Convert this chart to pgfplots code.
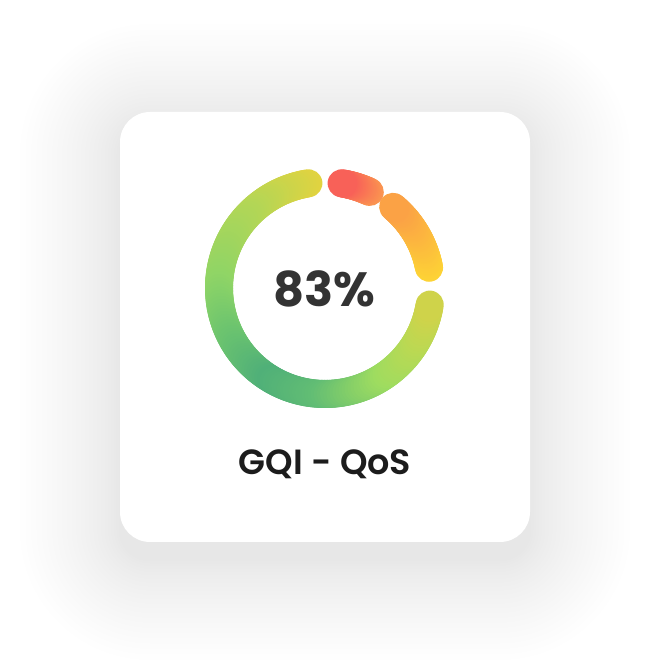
\documentclass[border=0pt]{standalone}
\usepackage{pgfplots}
\pgfplotsset{compat=1.18}
\usepackage{fontspec}
\newfontfamily\pop{Poppins}
\newfontfamily\popm{Poppins SemiBold}
\definecolor{numgray}{HTML}{333333}
\definecolor{labblack}{HTML}{1C1C1C}
\pgfplotsset{
  colormap={gauge}{
    rgb255(0pt)=(226,211,64)
    rgb255(36pt)=(181,214,85)
    rgb255(81pt)=(143,213,102)
    rgb255(111pt)=(108,196,111)
    rgb255(141pt)=(80,176,120)
    rgb255(171pt)=(98,189,116)
    rgb255(207pt)=(158,220,96)
    rgb255(231pt)=(184,217,84)
    rgb255(252pt)=(208,211,74)
    rgb255(300pt)=(253,212,53)
    rgb255(420pt)=(251,160,70)
    rgb255(462pt)=(250,150,80)
    rgb255(510pt)=(248,96,88)
  }
}
\begin{document}
\begin{tikzpicture}[x=1pt,y=1pt]
\fill[white] (0,0) rectangle (650,670);
% soft shadow
\foreach \i in {1,...,24} {
  \pgfmathsetmacro{\d}{100*(\i/24)^1.35}
  \pgfmathsetmacro{\rc}{30+\d}
  \fill[black, opacity=0.0035, rounded corners=\rc pt]
    (120-\d, 128-18-\d) rectangle (530+\d, 558-12+\d);
}
% card
\fill[white, rounded corners=30pt] (120,128) rectangle (530,558);
\begin{axis}[
  at={(325,382)}, anchor=origin,
  x=1pt, y=1pt,
  hide axis, clip=false,
  xmin=-130, xmax=130, ymin=-130, ymax=130,
  colormap name=gauge,
  point meta min=0, point meta max=510,
]
% green arc: from 99 deg (= -261) clockwise to -9 deg
\addplot[mesh, line width=28pt, line cap=round, domain=-261:-9, samples=150,
  variable=\t, point meta={atan2(y,x)-360*(atan2(y,x)>0)+261}]
  ({106*cos(\t)},{106*sin(\t)});
% red segment 65..81 deg
\addplot[mesh, line width=28pt, line cap=round, domain=65:81, samples=20,
  variable=\t, point meta={300+3*(atan2(y,x)-11)}]
  ({106*cos(\t)},{106*sin(\t)});
% orange-yellow segment 11..50 deg
\addplot[mesh, line width=28pt, line cap=round, domain=11:50, samples=40,
  variable=\t, point meta={300+3*(atan2(y,x)-11)}]
  ({106*cos(\t)},{106*sin(\t)});
\end{axis}
\node[text=numgray, anchor=center, inner sep=0pt] at (324,381)
  {\pop\bfseries\fontsize{48}{56}\selectfont 83\%};
\node[text=labblack, anchor=base, inner sep=0pt] at (325,195)
  {\popm\fontsize{35}{42}\selectfont GQI - QoS};
\end{tikzpicture}
\end{document}
